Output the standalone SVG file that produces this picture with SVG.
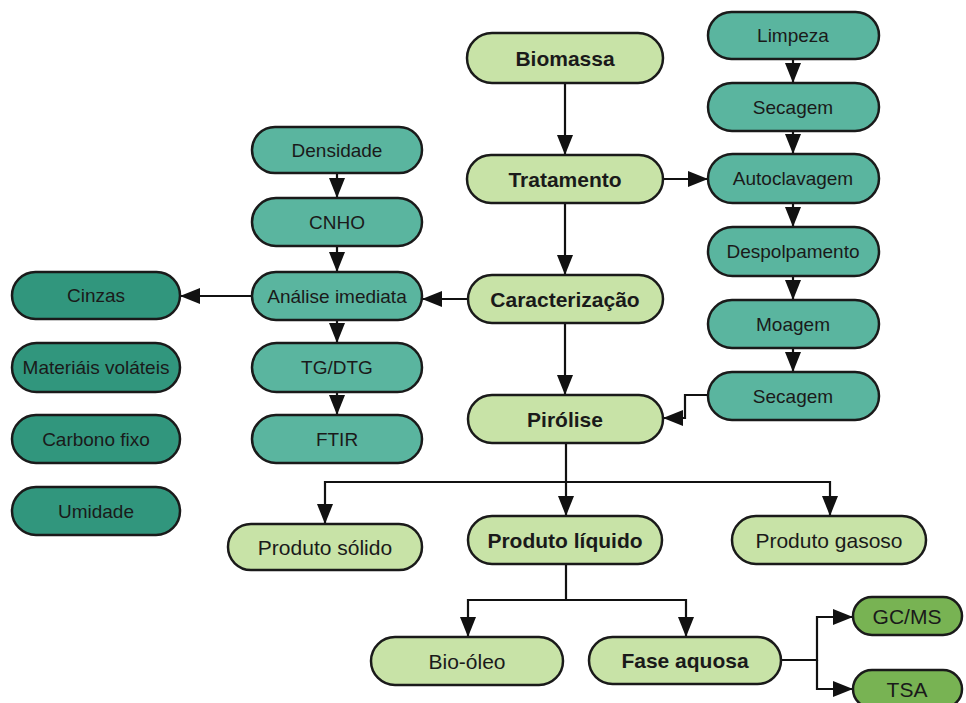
<svg xmlns="http://www.w3.org/2000/svg" width="966" height="703" viewBox="0 0 966 703">
<defs>
<marker id="ah" markerUnits="userSpaceOnUse" markerWidth="22" markerHeight="16" refX="20" refY="8" orient="auto" overflow="visible">
<path d="M0,0 L20,8 L0,16 z" fill="#111"/>
</marker>
<style>
.n rect{stroke:#1a1a1a;stroke-width:2.5}
.lg rect{fill:#c8e3a7}
.tl rect{fill:#5ab59f}
.dt rect{fill:#31967d}
.gr rect{fill:#78b353}
text{font-family:"Liberation Sans",Arial,sans-serif;fill:#1a1a1a;text-anchor:middle;dominant-baseline:central}
.b{font-weight:bold;font-size:21px}
.r{font-size:21px}
.s{font-size:19px}
.g{font-size:21px}
.c path{fill:none;stroke:#111;stroke-width:2.2;marker-end:url(#ah)}
</style>
</defs>
<rect width="966" height="703" fill="#fff"/>
<g class="c" id="connectors">
<path d="M565,83 V155"/>
<path d="M565,203 V275"/>
<path d="M565,323 V395"/>
<path d="M663,179 H708"/>
<path d="M793,59 V83"/>
<path d="M793,131 V154"/>
<path d="M793,203 V227"/>
<path d="M793,276 V300"/>
<path d="M793,348 V372"/>
<path d="M708,395 H685 V418 H663"/>
<path d="M468,299 H422"/>
<path d="M337,173 V198"/>
<path d="M337,246 V272"/>
<path d="M337,320 V343"/>
<path d="M337,392 V415"/>
<path d="M252,296 H180"/>
<path d="M566,443 V482 H325 V524"/>
<path d="M566,482 V516"/>
<path d="M566,482 H830 V516"/>
<path d="M566,564 V600 H468 V637"/>
<path d="M566,600 H686 V637"/>
<path d="M781,660 H817 V617 H853"/>
<path d="M817,660 V689 H853"/>
</g>
<g id="biomassa" class="n lg"><rect x="467" y="33" width="196" height="50" rx="25"/><text class="b" x="565" y="58">Biomassa</text></g>
<g id="tratamento" class="n lg"><rect x="467" y="155" width="196" height="48" rx="24"/><text class="b" x="565" y="179">Tratamento</text></g>
<g id="caracterizacao" class="n lg"><rect x="468" y="275" width="195" height="48" rx="24"/><text class="b" x="565" y="299">Caracterização</text></g>
<g id="pirolise" class="n lg"><rect x="468" y="395" width="195" height="48" rx="24"/><text class="b" x="565" y="419">Pirólise</text></g>
<g id="produto-solido" class="n lg"><rect x="228" y="524" width="194" height="46" rx="23"/><text class="r" x="325" y="547">Produto sólido</text></g>
<g id="produto-liquido" class="n lg"><rect x="468" y="516" width="194" height="48" rx="24"/><text class="b" x="565" y="540">Produto líquido</text></g>
<g id="produto-gasoso" class="n lg"><rect x="732" y="516" width="194" height="48" rx="24"/><text class="r" x="829" y="540">Produto gasoso</text></g>
<g id="bio-oleo" class="n lg"><rect x="371" y="637" width="192" height="48" rx="24"/><text class="r" x="467" y="661">Bio-óleo</text></g>
<g id="fase-aquosa" class="n lg"><rect x="589" y="637" width="192" height="47" rx="23.5"/><text class="b" x="685" y="660">Fase aquosa</text></g>
<g id="limpeza" class="n tl"><rect x="708" y="12" width="171" height="47" rx="23.5"/><text class="s" x="793" y="35">Limpeza</text></g>
<g id="secagem1" class="n tl"><rect x="708" y="83" width="171" height="48" rx="24"/><text class="s" x="793" y="107">Secagem</text></g>
<g id="autoclavagem" class="n tl"><rect x="708" y="154" width="171" height="49" rx="24.5"/><text class="s" x="793" y="178">Autoclavagem</text></g>
<g id="despolpamento" class="n tl"><rect x="708" y="227" width="171" height="49" rx="24.5"/><text class="s" x="793" y="251">Despolpamento</text></g>
<g id="moagem" class="n tl"><rect x="708" y="300" width="171" height="48" rx="24"/><text class="s" x="793" y="324">Moagem</text></g>
<g id="secagem2" class="n tl"><rect x="708" y="372" width="171" height="48" rx="24"/><text class="s" x="793" y="396">Secagem</text></g>
<g id="densidade" class="n tl"><rect x="252" y="127" width="170" height="46" rx="23"/><text class="s" x="337" y="150">Densidade</text></g>
<g id="cnho" class="n tl"><rect x="252" y="198" width="170" height="48" rx="24"/><text class="s" x="337" y="222">CNHO</text></g>
<g id="analise" class="n tl"><rect x="252" y="272" width="170" height="48" rx="24"/><text class="s" x="337" y="296">Análise imediata</text></g>
<g id="tgdtg" class="n tl"><rect x="252" y="343" width="170" height="49" rx="24.5"/><text class="s" x="337" y="367">TG/DTG</text></g>
<g id="ftir" class="n tl"><rect x="252" y="415" width="170" height="48" rx="24"/><text class="s" x="337" y="439">FTIR</text></g>
<g id="cinzas" class="n dt"><rect x="12" y="272" width="168" height="47" rx="23.5"/><text class="s" x="96" y="295">Cinzas</text></g>
<g id="volateis" class="n dt"><rect x="12" y="343" width="168" height="49" rx="24.5"/><text class="s" x="96" y="367">Materiáis voláteis</text></g>
<g id="carbono" class="n dt"><rect x="12" y="415" width="168" height="48" rx="24"/><text class="s" x="96" y="439">Carbono fixo</text></g>
<g id="umidade" class="n dt"><rect x="12" y="487" width="168" height="48" rx="24"/><text class="s" x="96" y="511">Umidade</text></g>
<g id="gcms" class="n gr"><rect x="853" y="597" width="109" height="38" rx="19"/><text class="g" x="907" y="616">GC/MS</text></g>
<g id="tsa" class="n gr"><rect x="853" y="670" width="109" height="38" rx="19"/><text class="g" x="907" y="689">TSA</text></g>
</svg>
